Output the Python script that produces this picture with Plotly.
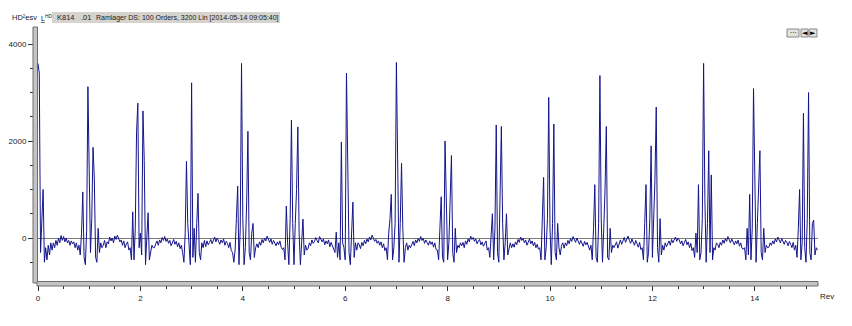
import plotly.graph_objects as go

# ---- data: amplitude samples, 40 per revolution (step 0.025 rev) ----
SAMPLE_STEP = 0.025
rev00 = [3600,3400,-300,300,1000,-500,-200,-450,-150,-350,-100,
         -250,-100,-200,-50,-150,0,-100,50,-50,30,-80,0,-100,-50,-150,-60,-120,-80,-200,-100,-250,
         -150,-350,100,950,-400,-550,150,3120]
rev01 = [900,-300,400,1870,1240,-400,-500,200,-300,-100,-200,
         -150,-50,-200,-80,-120,20,-60,0,-100,40,-30,60,-20,-80,-40,-150,-60,-200,-120,-80,-250,
         -200,-450,540,-450,200,2180,2780,-200]
rev02 = [100,-350,2620,1600,-550,0,520,-450,-250,-150,-200,
         -200,-120,-60,-150,-40,-100,10,-50,30,-70,-20,-110,-50,-160,-90,-30,-130,-70,-180,-100,-220,
         -150,-300,-500,100,1580,300,-200,-550]
rev03 = [3200,-400,200,-500,300,920,-300,-450,-100,-200,-50,
         -180,-60,-140,-90,-30,-120,-50,20,-80,0,-60,-130,-40,-100,-20,-150,-70,-110,-200,-90,-260,
         -300,-500,-250,400,1070,-550,200,3600]
rev04 = [400,-550,-200,700,2200,-300,-450,100,300,-400,-200,
         -120,-200,-80,-150,-30,-100,0,-60,40,-40,-90,-20,-130,-50,-100,-160,-80,-140,-60,-190,-240,
         -200,-450,660,-100,-550,400,2430,300]
rev05 = [-550,300,1000,2290,100,-550,-100,390,-350,-150,-250,
         -220,-100,-160,-40,-110,-70,10,-50,-100,30,-30,-80,-20,-140,-60,-120,-40,-180,-90,-150,-230,
         -300,120,-400,-100,-450,1980,-100,-200]
rev06 = [-450,3400,1100,-300,-550,200,740,-400,-100,-250,-100,
         -140,-220,-90,-160,-50,-120,-20,-80,20,-40,60,0,-70,-30,-110,-60,-150,-80,-200,-120,-260,
         -200,-450,100,400,900,-450,-200,300]
rev07 = [3620,1500,-500,300,1540,200,-500,-200,-100,-250,-150,
         -200,-130,-70,-160,-40,-100,-10,-70,30,-50,-10,-110,-40,-90,-150,-60,-130,-80,-190,-100,-240,
         -250,-450,200,850,-400,-500,2000,300]
rev08 = [-450,-100,600,1700,-300,-500,200,-300,-150,-200,-100,
         -160,-90,-200,-60,-130,-20,-80,40,-30,10,-70,-20,-120,-60,-30,-140,-80,-170,-110,-60,-250,
         -200,-400,100,500,-450,200,2330,-300]
rev09 = [-500,600,2300,300,-450,-100,500,-350,-200,-100,-200,
         -120,-190,-80,-140,-30,-90,20,-50,-10,-100,-40,-150,-70,-20,-120,-60,-160,-90,-200,-130,-230,
         -200,-450,300,1250,-450,-200,400,2900]
rev10 = [200,-550,300,2350,-300,-450,300,-200,-350,-150,-100,
         -210,-100,-160,-50,-120,-10,-70,30,-40,-90,0,-60,-130,-50,-100,-170,-70,-140,-90,-190,-250,
         -150,-450,200,1100,-400,-500,300,3350]
rev11 = [400,-500,200,1000,2300,-400,-450,200,-300,-150,-200,
         -150,-80,-210,-100,-40,-130,-60,10,-90,-30,40,-50,-110,-20,-80,-150,-50,-120,-190,-90,-240,
         -200,-450,300,1100,-500,-300,400,1900]
rev12 = [-400,300,1200,2700,-200,-500,400,-350,-150,-250,-100,
         -180,-110,-60,-150,-30,-100,-50,20,-70,0,-40,-120,-60,-160,-90,-30,-140,-80,-200,-110,-260,
         -200,-400,100,-300,1100,-450,-300,400]
rev13 = [3600,800,-500,300,1800,-300,1300,-450,-200,-250,-100,
         -130,-200,-90,-150,-40,-110,-10,-70,30,-50,-100,-20,-80,-140,-60,-120,-40,-170,-100,-210,-230,
         -200,-450,200,-350,900,-450,200,3080]
rev14 = [600,-500,300,1000,1800,-300,-450,200,-300,-150,-200,
         -190,-100,-150,-60,-120,-20,-80,20,-40,-100,-10,-60,-130,-50,-90,-160,-70,-130,-200,-90,-250,
         -150,-400,200,1000,-450,-100,2570,-200]
rev15 = [-500,400,3000,-300,-450,300,370,-350,-200,-250]

x_tick_vals = [0, 2, 4, 6, 8, 10, 12, 14]
x_tick_text = ["0", "2", "4", "6", "8", "10", "12", "14"]
y_tick_vals = [0, 2000, 4000]
y_tick_text = ["0", "2000", "4000"]
header_label = "HD\u00b2esv"
title_parts = ["K814", ".01", "Ramlager DS: 100 Orders, 3200 Lin [2014-05-14 09:05:40]"]
x_unit = "Rev"

amp = (rev00 + rev01 + rev02 + rev03 + rev04 + rev05 + rev06 + rev07 +
       rev08 + rev09 + rev10 + rev11 + rev12 + rev13 + rev14 + rev15)
revs = [i * SAMPLE_STEP for i in range(len(amp))]

# ---- layout geometry (pixels) ----
W, H = 852, 326
L, R, T, B = 38, 34, 30, 43
PW, PH = W - L - R, H - T - B

def px(xp):
    return (xp - L) / PW

def py(yp):
    return (H - B - yp) / PH

FONT = "Liberation Sans, Arial, sans-serif"
TXT = "#202020"

fig = go.Figure()
fig.add_trace(go.Scatter(x=revs, y=amp, mode="lines",
                         line=dict(color="#14148c", width=1),
                         hoverinfo="skip", showlegend=False))

shapes = [
    # left vertical bar
    dict(type="rect", xref="paper", yref="paper", x0=px(33), x1=px(37.5), y0=py(283), y1=py(27),
         fillcolor="#c4c4c4", line=dict(color="#6e6e6e", width=1), layer="above"),
    # bottom horizontal bar
    dict(type="rect", xref="paper", yref="paper", x0=px(37), x1=px(818), y0=py(286), y1=py(281.5),
         fillcolor="#c4c4c4", line=dict(color="#6e6e6e", width=1), layer="above"),
    # header grey box
    dict(type="rect", xref="paper", yref="paper", x0=px(52), x1=px(280), y0=py(23), y1=py(12),
         fillcolor="#d6d3ce", line=dict(color="#d6d3ce", width=0), layer="above"),
]
# buttons top right
for bx0, bx1 in [(787, 799), (801, 808), (809, 817)]:
    shapes.append(dict(type="rect", xref="paper", yref="paper", x0=px(bx0), x1=px(bx1),
                       y0=py(37), y1=py(29), fillcolor="#e4e2de",
                       line=dict(color="#8a8a8a", width=1), layer="above"))

def ann(text, xp, yp, size, anchor="left", family=FONT, color=TXT):
    return dict(text=text, xref="paper", yref="paper", x=px(xp), y=py(yp),
                xanchor=anchor, yanchor="middle", showarrow=False,
                font=dict(family=family, size=size, color=color))

annotations = [
    ann(header_label, 10, 17.5, 7.5),
    ann("<u>L</u><sup>HD</sup>", 39, 17.5, 7),
    ann(title_parts[0], 55, 17.5, 7.5),
    ann(title_parts[1], 79, 17.5, 7.5),
    ann(title_parts[2], 94, 17.5, 7.0),
    ann(x_unit, 818, 296, 8),
]
for txt, cx in [("\u00b7\u00b7\u00b7", 793), ("\u25c4", 804.5), ("\u25ba", 813)]:
    annotations.append(ann(txt, cx, 33, 7, anchor="center", family="DejaVu Sans", color="#000000"))

fig.update_layout(
    width=W, height=H,
    margin=dict(l=L, r=R, t=T, b=B, pad=0, autoexpand=False),
    paper_bgcolor="white", plot_bgcolor="white",
    shapes=shapes, annotations=annotations,
    font=dict(family=FONT, size=8, color=TXT),
    xaxis=dict(range=[0, (818 - L) / 51.2], showgrid=False, zeroline=False, showline=False,
               automargin=False,
               tickmode="array", tickvals=x_tick_vals, ticktext=x_tick_text,
               ticks="outside", ticklen=7, tickwidth=1, tickcolor="#303030",
               minor=dict(dtick=0.5, tick0=0, ticks="outside", ticklen=5, tickcolor="#303030"),
               tickfont=dict(family=FONT, size=8, color=TXT)),
    yaxis=dict(range=[-928, 4289], showgrid=False, showline=False, automargin=False,
               zeroline=True, zerolinecolor="#7a7a7a", zerolinewidth=1,
               tickmode="array", tickvals=y_tick_vals, ticktext=y_tick_text,
               ticks="outside", ticklen=9, tickwidth=1, tickcolor="#303030",
               minor=dict(dtick=500, tick0=0, ticks="outside", ticklen=7, tickcolor="#303030"),
               tickfont=dict(family=FONT, size=8, color=TXT)),
)

fig.write_html("out.html")
